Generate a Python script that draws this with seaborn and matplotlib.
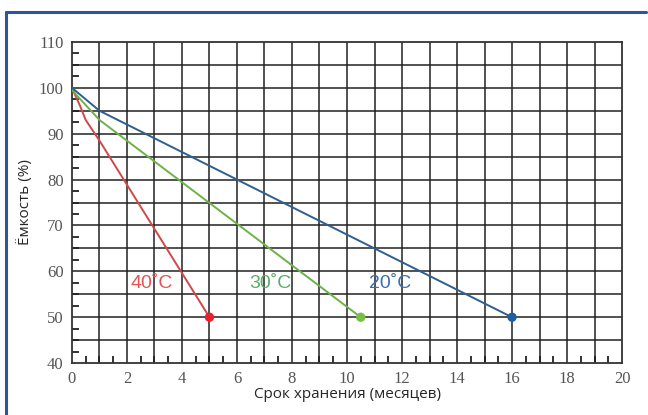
import matplotlib
matplotlib.use('Agg')
import matplotlib.pyplot as plt
from matplotlib.ticker import MultipleLocator
from matplotlib.lines import Line2D
import pandas as pd
import seaborn as sns

# storage time (months) vs capacity (%) for each temperature
months_40 = [0, 0.3, 0.5, 1, 5]
cap_40 = [100, 96, 93, 88.5, 50]
months_30 = [0, 1, 10.5]
cap_30 = [99.5, 93, 50]
months_20 = [0, 1, 16]
cap_20 = [100, 95, 50]

temps = ['40˚C', '30˚C', '20˚C']
line_colors = {'40˚C': '#d04848', '30˚C': '#6cb24a', '20˚C': '#2e5f8f'}
dot_colors = {'40˚C': '#e8202a', '30˚C': '#76c043', '20˚C': '#1f5fa0'}
text_colors = {'40˚C': '#e05555', '30˚C': '#5caa68', '20˚C': '#3b6fb0'}
label_pos = {'40˚C': (2.9, 57.4), '30˚C': (7.2, 57.4), '20˚C': (11.55, 57.4)}

df = pd.concat([
    pd.DataFrame({'month': months_40, 'cap': cap_40, 'temp': '40˚C'}),
    pd.DataFrame({'month': months_30, 'cap': cap_30, 'temp': '30˚C'}),
    pd.DataFrame({'month': months_20, 'cap': cap_20, 'temp': '20˚C'}),
])

sns.set_style('white')
# tick numbers are serif, everything else names its own family
plt.rcParams['font.family'] = ['Liberation Serif', 'DejaVu Sans']

fig = plt.figure(figsize=(6.48, 4.15), dpi=100)
ax = fig.add_axes([0.111, 0.125, 0.849, 0.774])

sns.lineplot(data=df, x='month', y='cap', hue='temp', palette=line_colors,
             estimator=None, sort=False, lw=1.4, legend=False, ax=ax, zorder=3)

# end points
ends = df.groupby('temp', sort=False).tail(1)
sns.scatterplot(data=ends, x='month', y='cap', hue='temp', palette=dot_colors,
                s=45, edgecolor='none', legend=False, ax=ax, zorder=4)

for t in temps:
    x, y = label_pos[t]
    ax.text(x, y, t, color=text_colors[t], fontsize=14, ha='center', va='center',
            family=['Liberation Sans', 'DejaVu Sans'], zorder=5)

ax.set_xlim(0, 20)
ax.set_ylim(40, 110)
ax.xaxis.set_major_locator(MultipleLocator(2))
ax.yaxis.set_major_locator(MultipleLocator(10))
ax.xaxis.set_minor_locator(MultipleLocator(0.5))
ax.yaxis.set_minor_locator(MultipleLocator(2.5))

# grid: every month / every 5 %
for gx in range(1, 20):
    ax.axvline(gx, color='#222222', lw=1.1, zorder=1)
for gy in range(45, 110, 5):
    ax.axhline(gy, color='#222222', lw=1.1, zorder=1)

ax.tick_params(which='both', left=True, bottom=True)
ax.tick_params(which='major', direction='in', length=0, labelsize=12,
               labelcolor='#555555', pad=6)
ax.tick_params(which='minor', direction='in', length=5, width=1.3,
               color='#222222')
for s in ax.spines.values():
    s.set_color('#333333')
    s.set_linewidth(1.3)

ax.set_xlabel('Срок хранения (месяцев)', fontsize=11, family='Open Sans',
              labelpad=0)
ax.set_ylabel('Ёмкость (%)', fontsize=11, family='Open Sans', labelpad=4)

# blue frame around the picture
fig.add_artist(Line2D([0.009, 0.997], [0.971, 0.971], color='#2f5597', lw=2.2,
                      transform=fig.transFigure))
fig.add_artist(Line2D([0.009, 0.009], [0.0, 0.971], color='#2f5597', lw=2.2,
                      transform=fig.transFigure))

fig.savefig('out.png', dpi=100)
